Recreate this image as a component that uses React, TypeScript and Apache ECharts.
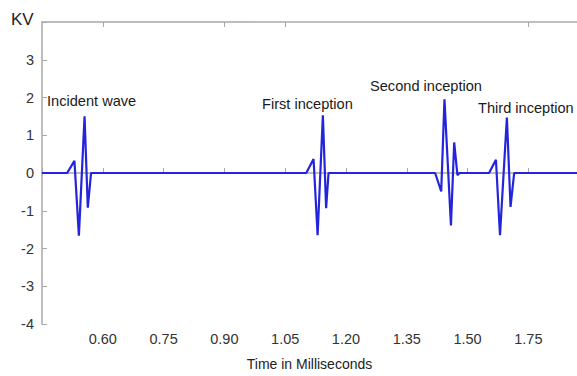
import React, { useEffect, useRef } from "react";
import * as echarts from "echarts";

// Waveform samples (time in ms, voltage in kV)
const timeMs = [
  0.45, 0.512, 0.53, 0.541, 0.555, 0.563, 0.571,
  1.102, 1.12, 1.13, 1.143, 1.151, 1.157,
  1.42, 1.435, 1.443, 1.459, 1.467, 1.475, 1.48,
  1.553, 1.57, 1.58, 1.597, 1.606, 1.615,
  1.77,
];
const kv = [
  0, 0, 0.32, -1.66, 1.5, -0.92, 0,
  0, 0.37, -1.65, 1.53, -0.93, 0,
  0, -0.49, 1.95, -1.39, 0.81, -0.06, 0,
  0, 0.35, -1.65, 1.47, -0.9, 0,
  0,
];

const xTickLabels = ["", "0.60", "0.75", "0.90", "1.05", "1.20", "1.35", "1.50", "1.75"];
const yTickLabels = ["-4", "-3", "-2", "-1", "0", "1", "2", "3", ""];
const topTickValues = [0.6, 0.9, 1.05, 1.65];

const annotations = [
  { text: "Incident wave", x: 47, y: 101 },
  { text: "First inception", x: 262, y: 104 },
  { text: "Second inception", x: 370, y: 86 },
  { text: "Third inception", x: 478, y: 108 },
];

export default function App() {
  const ref = useRef<HTMLDivElement>(null);
  useEffect(() => {
    if (!ref.current) return;
    const chart = echarts.init(ref.current, undefined, { renderer: "svg" });
    const font = "'Liberation Sans', Arial, sans-serif";
    const axisGray = "#a8a8a8";
    chart.setOption({
      animation: false,
      backgroundColor: "#ffffff",
      grid: { left: 42, right: 0, top: 22, bottom: 48, containLabel: false },
      xAxis: [
        {
          type: "value",
          min: 0.45,
          max: 1.77,
          interval: 0.15,
          splitLine: { show: false },
          axisLine: { show: true, lineStyle: { color: axisGray, width: 1.5 } },
          axisTick: { show: true, inside: true, length: 5, lineStyle: { color: axisGray } },
          axisLabel: {
            color: "#333",
            fontSize: 14.5,
            fontFamily: font,
            margin: 7,
            showMaxLabel: false,
            formatter: (v: number) => {
              const i = Math.round((v - 0.45) / 0.15);
              return xTickLabels[i] ?? "";
            },
          },
          name: "Time in Milliseconds",
          nameLocation: "middle",
          nameGap: 33,
          nameTextStyle: { color: "#222", fontSize: 14, fontFamily: font },
        },
        {
          type: "value",
          position: "top",
          min: 0.45,
          max: 1.77,
          splitLine: { show: false },
          axisLine: { show: true, lineStyle: { color: axisGray, width: 1.5 } },
          axisTick: {
            show: true,
            inside: true,
            length: 5,
            customValues: topTickValues,
            lineStyle: { color: axisGray },
          },
          axisLabel: { show: false },
        },
      ],
      yAxis: {
        type: "value",
        min: -4,
        max: 4,
        interval: 1,
        splitLine: { show: false },
        axisLine: { show: true, lineStyle: { color: axisGray, width: 1.5 } },
        axisTick: { show: true, inside: true, length: 5, lineStyle: { color: axisGray } },
        axisLabel: {
          color: "#333",
          fontSize: 14.5,
          fontFamily: font,
          margin: 8,
          formatter: (v: number) => yTickLabels[Math.round(v + 4)] ?? "",
        },
      },
      graphic: [
        {
          type: "text",
          left: 11,
          top: 11,
          style: { text: "KV", fontSize: 17, fontFamily: font, fill: "#222" },
        },
        ...annotations.map((a) => ({
          type: "text",
          x: a.x,
          y: a.y,
          style: {
            text: a.text,
            fontSize: 14.6,
            fontFamily: font,
            fill: "#1a1a1a",
            verticalAlign: "middle",
          },
          z: 10,
        })),
      ],
      series: [
        {
          type: "line",
          data: timeMs.map((t, i) => [t, kv[i]]),
          showSymbol: false,
          lineStyle: { color: "#2424dc", width: 2.2 },
          itemStyle: { color: "#2424dc" },
        },
      ],
    });
    return () => chart.dispose();
  }, []);
  return (
    <div
      ref={ref}
      style={{ position: "fixed", left: 0, top: 0, width: 577, height: 376, background: "#fff" }}
    />
  );
}
